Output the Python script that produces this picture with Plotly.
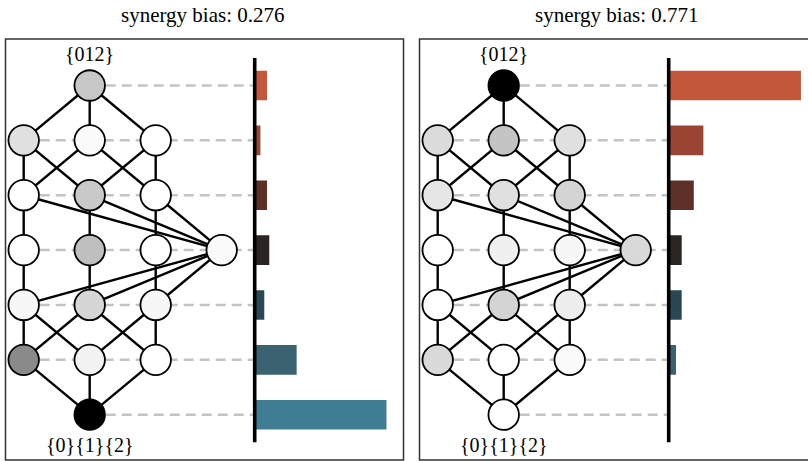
import plotly.graph_objects as go

# ---------------------------------------------------------------- data
titles = ["synergy bias: 0.276", "synergy bias: 0.771"]

# partial-information atoms of the 3-source redundancy lattice, top to bottom
atoms = [
    "{012}",
    "{01}", "{02}", "{12}",
    "{01}{02}", "{01}{12}", "{02}{12}",
    "{0}", "{1}", "{2}", "{01}{02}{12}",
    "{0}{12}", "{1}{02}", "{2}{01}",
    "{0}{1}", "{0}{2}", "{1}{2}",
    "{0}{1}{2}",
]

# node shading (0 = white, 1 = black), same order as atoms
shade_left = [
    0.22,
    0.12, 0.02, 0.00,
    0.00, 0.21, 0.00,
    0.00, 0.25, 0.00, 0.02,
    0.03, 0.16, 0.03,
    0.46, 0.05, 0.00,
    1.00,
]
shade_right = [
    1.00,
    0.14, 0.23, 0.12,
    0.10, 0.12, 0.17,
    0.00, 0.06, 0.03, 0.15,
    0.00, 0.17, 0.07,
    0.15, 0.00, 0.02,
    0.00,
]

# information per lattice level, top level first
level_left = [0.054, 0.025, 0.054, 0.064, 0.042, 0.184, 0.578]
level_right = [0.580, 0.152, 0.110, 0.057, 0.057, 0.032, 0.000]

# ---------------------------------------------------------------- lattice structure
# (column, level) of every atom; level 6 is the top of the lattice
grid = {
    "{012}": (1, 6),
    "{01}": (0, 5), "{02}": (1, 5), "{12}": (2, 5),
    "{01}{02}": (0, 4), "{01}{12}": (1, 4), "{02}{12}": (2, 4),
    "{0}": (0, 3), "{1}": (1, 3), "{2}": (2, 3), "{01}{02}{12}": (3, 3),
    "{0}{12}": (0, 2), "{1}{02}": (1, 2), "{2}{01}": (2, 2),
    "{0}{1}": (0, 1), "{0}{2}": (1, 1), "{1}{2}": (2, 1),
    "{0}{1}{2}": (1, 0),
}

# covering relations of the lattice
edges = [
    ("{012}", "{01}"), ("{012}", "{02}"), ("{012}", "{12}"),
    ("{01}", "{01}{02}"), ("{01}", "{01}{12}"),
    ("{02}", "{01}{02}"), ("{02}", "{02}{12}"),
    ("{12}", "{01}{12}"), ("{12}", "{02}{12}"),
    ("{01}{02}", "{0}"), ("{01}{12}", "{1}"), ("{02}{12}", "{2}"),
    ("{01}{02}", "{01}{02}{12}"), ("{01}{12}", "{01}{02}{12}"), ("{02}{12}", "{01}{02}{12}"),
    ("{0}", "{0}{12}"), ("{1}", "{1}{02}"), ("{2}", "{2}{01}"),
    ("{01}{02}{12}", "{0}{12}"), ("{01}{02}{12}", "{1}{02}"), ("{01}{02}{12}", "{2}{01}"),
    ("{0}{12}", "{0}{1}"), ("{0}{12}", "{0}{2}"),
    ("{1}{02}", "{0}{1}"), ("{1}{02}", "{1}{2}"),
    ("{2}{01}", "{0}{2}"), ("{2}{01}", "{1}{2}"),
    ("{0}{1}", "{0}{1}{2}"), ("{0}{2}", "{0}{1}{2}"), ("{1}{2}", "{0}{1}{2}"),
]

level_colors = ["#c4563b", "#9a4534", "#5e3028", "#2a2423", "#2a4853", "#3a6271", "#3f7e92"]

# ---------------------------------------------------------------- geometry (pixels)
W, H = 808, 461
COL_PX = 66.0          # horizontal spacing between lattice columns
ROW_PX = 54.87         # vertical spacing between lattice levels
COL0 = 23.7            # first column, relative to panel origin
LEVEL0 = 414.7         # bottom level, from the top of the figure
FRAME_TOP, FRAME_BOTTOM = 39, 460
BAR_PX_PER_UNIT = 228.0
BAR_AXIS_COL = 3.5     # zero line of the bars, in lattice columns
panel_x0 = [0, 414]
SERIF = "Liberation Serif, Times New Roman, serif"

shade_sets = [shade_left, shade_right]
level_sets = [level_left, level_right]

fig = go.Figure()
layout = dict(
    width=W, height=H, margin=dict(l=0, r=0, t=0, b=0),
    paper_bgcolor="white", plot_bgcolor="rgba(0,0,0,0)",
    showlegend=False, shapes=[], annotations=[],
)

ydom = [1 - FRAME_BOTTOM / H, 1 - FRAME_TOP / H]
yrange = [-(FRAME_BOTTOM - LEVEL0) / ROW_PX, (LEVEL0 - FRAME_TOP) / ROW_PX]
levels = list(range(6, -1, -1))

for p, x0 in enumerate(panel_x0):
    xl = "x" if p == 0 else f"x{2 * p + 1}"
    xb = f"x{2 * p + 2}"
    yy = "y" if p == 0 else f"y{p + 1}"
    axl, axb, axy = "xaxis" + xl[1:], "xaxis" + xb[1:], "yaxis" + yy[1:]

    lat_left, lat_right = x0 + 5.5, min(x0 + 390.0, W)
    bar_left = x0 + COL0 + BAR_AXIS_COL * COL_PX
    layout[axl] = dict(
        domain=[lat_left / W, lat_right / W],
        range=[(lat_left - x0 - COL0) / COL_PX, (lat_right - x0 - COL0) / COL_PX],
        visible=False, anchor=yy, fixedrange=True,
    )
    layout[axb] = dict(
        domain=[bar_left / W, lat_right / W],
        range=[0, (lat_right - bar_left) / BAR_PX_PER_UNIT],
        visible=False, anchor=yy, fixedrange=True,
    )
    layout[axy] = dict(domain=ydom, range=yrange, visible=False, anchor=xl, fixedrange=True)

    # dashed guides from each level to the bar axis
    for lv in levels:
        first_col = min(c for c, l in grid.values() if l == lv)
        layout["shapes"].append(dict(
            type="line", xref=xl, yref=yy, x0=first_col, x1=BAR_AXIS_COL, y0=lv, y1=lv,
            line=dict(color="#c3c3c3", width=2.5, dash="10px,6px"), layer="below",
        ))

    # lattice edges
    ex, ey = [], []
    for a, b in edges:
        ex += [grid[a][0], grid[b][0], None]
        ey += [grid[a][1], grid[b][1], None]
    fig.add_trace(go.Scatter(x=ex, y=ey, mode="lines", xaxis=xl, yaxis=yy,
                             line=dict(color="black", width=2.4), hoverinfo="skip"))

    # lattice nodes
    fig.add_trace(go.Scatter(
        x=[grid[a][0] for a in atoms], y=[grid[a][1] for a in atoms],
        mode="markers", xaxis=xl, yaxis=yy, text=atoms, cliponaxis=False,
        marker=dict(size=30.5, color=shade_sets[p], cmin=0, cmax=1,
                    colorscale=[[0, "#ffffff"], [1, "#000000"]],
                    line=dict(color="black", width=1.8)),
    ))

    # level totals
    fig.add_trace(go.Bar(
        x=level_sets[p], y=levels, orientation="h", xaxis=xb, yaxis=yy,
        width=0.54, marker=dict(color=level_colors, line=dict(width=0)),
    ))

    # bar zero line (drawn on the lattice axis so it is not clipped at a domain edge)
    layout["shapes"].append(dict(
        type="line", xref=xl, yref=yy, x0=BAR_AXIS_COL, x1=BAR_AXIS_COL, y0=-0.5, y1=6.5,
        line=dict(color="black", width=3.6), layer="above",
    ))

    # panel frame
    layout["shapes"].append(dict(
        type="rect", xref="paper", yref="paper",
        x0=(x0 + 5.5) / W, x1=(x0 + 403.5) / W,
        y0=1 - FRAME_BOTTOM / H, y1=1 - FRAME_TOP / H,
        line=dict(color="#333333", width=1.5), layer="above",
    ))

    # lattice end labels
    top_atom, bottom_atom = atoms[0], atoms[-1]
    layout["annotations"].append(dict(
        xref=xl, yref=yy, x=grid[top_atom][0], y=grid[top_atom][1], yshift=31.5,
        text=top_atom, showarrow=False, font=dict(family=SERIF, size=20, color="black"),
        xanchor="center", yanchor="middle",
    ))
    layout["annotations"].append(dict(
        xref=xl, yref=yy, x=grid[bottom_atom][0], y=grid[bottom_atom][1], yshift=-30.5,
        text=bottom_atom, showarrow=False, font=dict(family=SERIF, size=20, color="black"),
        xanchor="center", yanchor="middle",
    ))

    # panel title
    layout["annotations"].append(dict(
        xref="paper", yref="paper", x=(x0 + 203) / W, y=1 - 15 / H,
        text=titles[p], showarrow=False, font=dict(family=SERIF, size=21, color="black"),
        xanchor="center", yanchor="middle",
    ))

fig.update_layout(**layout)
fig.write_html("out.html")
